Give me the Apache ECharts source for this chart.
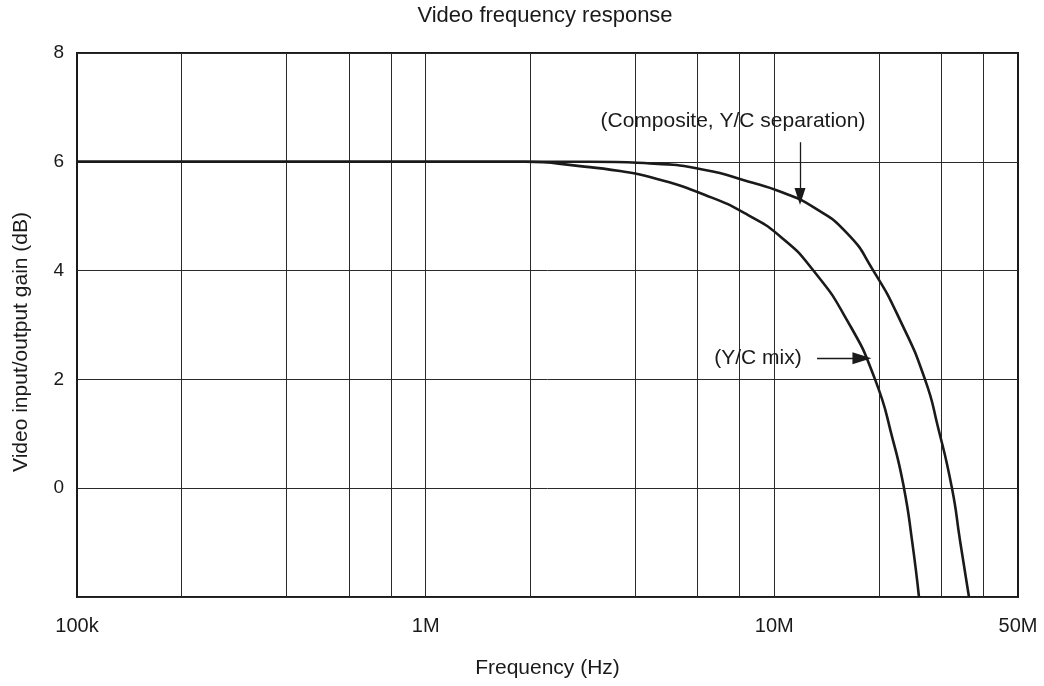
<!DOCTYPE html>
<html>
<head>
<meta charset="utf-8">
<script src="https://cdn.jsdelivr.net/npm/echarts@6/dist/echarts.min.js"></script>
<style>html,body{margin:0;padding:0;background:#fff;}#c{width:1044px;height:686px;}</style>
</head>
<body>
<div id="c"></div>
<script>
// Data (frequency in MHz, gain in dB)
const compositeMHz = [0.1, 1.0, 2.96, 4.40, 6.33, 8.41, 10.52, 12.91, 16.16, 19.19, 22.94, 27.05, 29.48, 32.33, 34.09, 36.17];
const compositeDb  = [6.0, 6.0, 6.0, 5.97, 5.85, 5.64, 5.44, 5.17, 4.69, 4.01, 3.09, 2.00, 1.12, 0.0, -0.96, -2.0];
const ycMixMHz = [0.1, 1.0, 1.93, 2.77, 3.61, 4.40, 6.33, 8.41, 10.52, 12.91, 16.16, 19.45, 21.9, 23.55, 24.83, 26.0];
const ycMixDb  = [6.0, 6.0, 6.0, 5.92, 5.83, 5.72, 5.39, 5.02, 4.60, 4.01, 3.09, 2.0, 0.88, 0.0, -0.96, -2.0];

const xTickHz = [1e5, 1e6, 1e7, 5e7];
const xTickLabels = ['100k', '1M', '10M', '50M'];
const gridHz = [2e5, 4e5, 6e5, 8e5, 1e6, 2e6, 4e6, 6e6, 8e6, 1e7, 2e7, 3e7, 4e7];
const yTicks = [-2, 0, 2, 4, 6, 8];

// Annotations (frequency MHz, dB)
const compositeLabel = {text: '(Composite, Y/C separation)', mhz: 7.61, db: 6.75};
const compositeArrow = {fromMHz: 11.85, fromDb: 6.36, toMHz: 11.85, toDb: 5.36};
const mixLabel = {text: '(Y/C mix)', mhz: 8.98, db: 2.39};
const mixArrow = {fromMHz: 13.26, fromDb: 2.39, toMHz: 17.84, toDb: 2.39};

const lg = hz => Math.log10(hz);
const toPts = (mhz, db) => mhz.map((f, i) => [lg(f * 1e6), db[i]]);

const FONT = '"Liberation Sans", Arial, Helvetica, sans-serif';
const INK = '#1a1a1a';

const chart = echarts.init(document.getElementById('c'), null, {renderer: 'canvas'});
chart.setOption({
  animation: false,
  backgroundColor: '#fff',
  title: {
    text: 'Video frequency response',
    left: 540, textAlign: 'center', top: 0,
    textStyle: {fontFamily: FONT, fontSize: 22, fontWeight: 'normal', color: INK}
  },
  grid: {left: 77, right: 26, top: 53, bottom: 89, show: true, borderColor: INK, borderWidth: 2, backgroundColor: 'transparent'},
  xAxis: {
    type: 'value', min: lg(xTickHz[0]), max: lg(xTickHz[xTickHz.length - 1]),
    name: 'Frequency (Hz)', nameLocation: 'middle', nameGap: 61,
    nameTextStyle: {fontFamily: FONT, fontSize: 21, color: INK},
    axisLine: {show: false}, axisTick: {show: false}, splitLine: {show: false},
    axisLabel: {
      customValues: xTickHz.map(lg),
      formatter: v => { const i = xTickHz.findIndex(h => Math.abs(lg(h) - v) < 1e-6); return i >= 0 ? xTickLabels[i] : ''; },
      fontFamily: FONT, fontSize: 20, color: INK, margin: 19, showMinLabel: true, showMaxLabel: true
    }
  },
  yAxis: {
    type: 'value', min: yTicks[0], max: yTicks[yTicks.length - 1], interval: 2,
    name: 'Video input/output gain (dB)', nameLocation: 'middle', nameGap: 45, nameRotate: 90,
    nameTextStyle: {fontFamily: FONT, fontSize: 21, color: INK, padding: [0, 34, 0, 0]},
    axisLine: {show: false}, axisTick: {show: false},
    splitLine: {show: true, lineStyle: {color: '#2a2a2a', width: 1}},
    axisLabel: {formatter: v => (v === -2 ? '' : String(v)), fontFamily: FONT, fontSize: 19, color: INK, margin: 13}
  },
  series: [
    {
      type: 'line', name: 'grid', data: [], silent: true,
      markLine: {
        silent: true, symbol: 'none', animation: false,
        label: {show: false},
        lineStyle: {color: '#2a2a2a', width: 1, type: 'solid'},
        emphasis: {disabled: true},
        data: gridHz.map(h => ({xAxis: lg(h)}))
      }
    },
    {
      type: 'line', name: 'Composite, Y/C separation', data: toPts(compositeMHz, compositeDb),
      smooth: 0.55, showSymbol: false, symbol: 'none',
      lineStyle: {color: INK, width: 2.6}, z: 5,
      markLine: {
        silent: true, symbol: ['none', 'triangle'], symbolSize: [11, 17], animation: false,
        label: {show: false},
        lineStyle: {color: INK, width: 1.3, type: 'solid'},
        emphasis: {disabled: true},
        data: [[{coord: [lg(compositeArrow.fromMHz * 1e6), compositeArrow.fromDb]}, {coord: [lg(compositeArrow.toMHz * 1e6), compositeArrow.toDb]}]]
      },
      markPoint: {
        silent: true, symbol: 'circle', symbolSize: 0, animation: false,
        itemStyle: {color: 'transparent'},
        label: {show: true, position: 'inside', formatter: compositeLabel.text, fontFamily: FONT, fontSize: 21, color: INK},
        data: [{coord: [lg(compositeLabel.mhz * 1e6), compositeLabel.db]}]
      }
    },
    {
      type: 'line', name: 'Y/C mix', data: toPts(ycMixMHz, ycMixDb),
      smooth: 0.55, showSymbol: false, symbol: 'none',
      lineStyle: {color: INK, width: 2.6}, z: 5,
      markLine: {
        silent: true, symbol: ['none', 'triangle'], symbolSize: [12, 19], animation: false,
        label: {show: false},
        lineStyle: {color: INK, width: 1.3, type: 'solid'},
        emphasis: {disabled: true},
        data: [[{coord: [lg(mixArrow.fromMHz * 1e6), mixArrow.fromDb]}, {coord: [lg(mixArrow.toMHz * 1e6), mixArrow.toDb]}]]
      },
      markPoint: {
        silent: true, symbol: 'circle', symbolSize: 0, animation: false,
        itemStyle: {color: 'transparent'},
        label: {show: true, position: 'inside', formatter: mixLabel.text, fontFamily: FONT, fontSize: 21, color: INK},
        data: [{coord: [lg(mixLabel.mhz * 1e6), mixLabel.db]}]
      }
    }
  ]
});
</script>
</body>
</html>
